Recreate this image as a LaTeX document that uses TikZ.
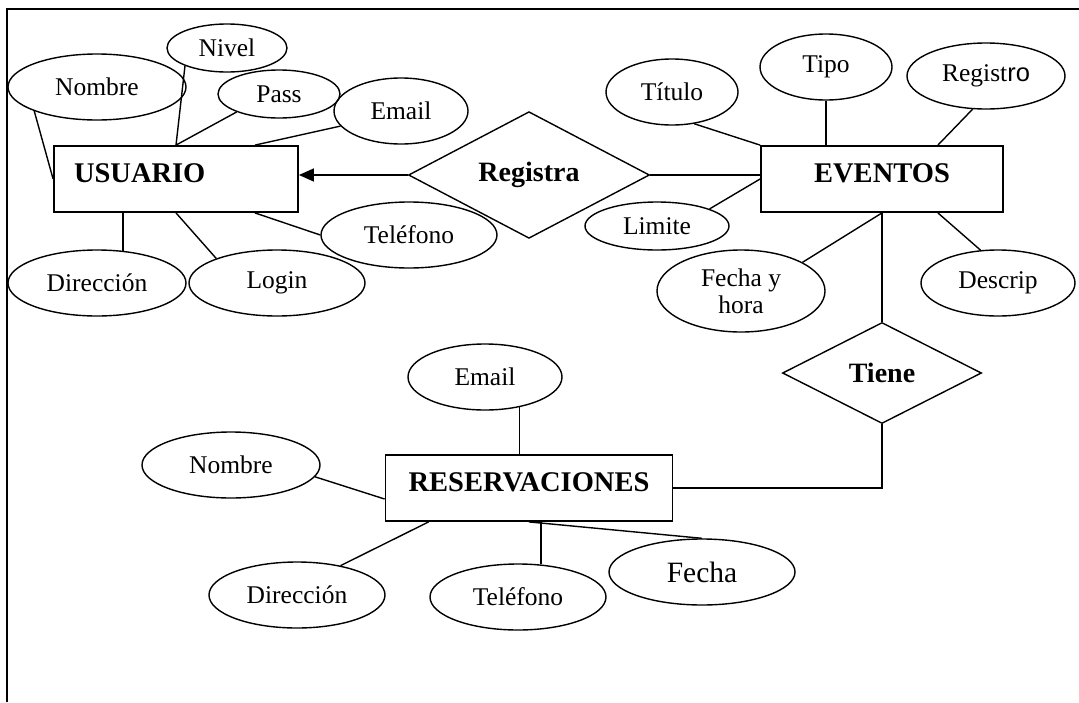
\documentclass[tikz,border=0pt]{standalone}
\usepackage{fontspec}
\setmainfont{Liberation Serif}
\newfontfamily\rofont{Liberation Sans}
\usetikzlibrary{shapes.geometric,arrows.meta}

\tikzset{
  attrib/.style={draw, ellipse, line width=1.4pt, inner sep=0pt, align=center,
    font=\fontsize{25.5}{27}\selectfont},
  entidad/.style={draw, rectangle, line width=1.8pt, minimum height=66pt, inner sep=0pt,
    text depth=12pt, font=\bfseries\fontsize{28.5}{30}\selectfont},
  relacion/.style={draw, diamond, line width=1.4pt, inner sep=0pt,
    font=\bfseries\fontsize{28}{30}\selectfont},
}

\begin{document}
\begin{tikzpicture}[x=1pt,y=-1pt,line width=1.4pt]

            \useasboundingbox (0,0) rectangle (1079,702);

            % Page frame (left and top only)
            \draw[line width=1.6pt] (7,702) -- (7,9) -- (1079,9);

            % Entities and relations
            \node[entidad, minimum width=244pt, text width=204pt, align=left, inner xsep=20pt] (usuario) at (176,179) {USUARIO};
            \node[entidad, minimum width=242pt] (eventos) at (882,179) {EVENTOS};
            \node[entidad, minimum width=287pt] (reservaciones) at (529,488) {RESERVACIONES};
            \node[relacion, minimum width=241pt, minimum height=102pt] (registra) at (529,175) {Registra};
            \node[relacion, minimum width=199pt, minimum height=101pt] (tiene) at (882,373) {Tiene};

            % Attributes: name/x/y/width/height/text
            \foreach \n/\x/\y/\w/\h/\t in {
            unombre/97/87/178/66/Nombre,
            univel/227/48/120/48/Nivel,
            upass/279/94/122/48/Pass,
            uemail/401/111/134/66/Email,
            utelefono/409/235/176/66/Teléfono,
            udireccion/97/283/178/66/Dirección,
            ulogin/277/283/176/66/Login,
            etitulo/672/92/132/66/Título,
            etipo/826/67/132/66/Tipo,
            eregistro/986/76/158/66/{Regist{\rofont ro}},
            elimite/657/226/144/48/Limite,
            efecha/741/291/168/82/{Fecha y\\hora},
            edescrip/998/283/154/66/Descrip,
            remail/485/377/154/66/Email,
            rnombre/231/465/178/66/Nombre,
            rdireccion/297/595/176/66/Dirección,
            rtelefono/518/597/176/66/Teléfono} {
            \node[attrib, minimum width=\w pt, minimum height=\h pt] (\n) at (\x,\y) {\t};
            }
            \node[attrib, minimum width=186pt, minimum height=66pt, font=\fontsize{29.5}{31}\selectfont] (rfecha) at (702,572) {Fecha};

            % USUARIO links
            \draw[-{Triangle[length=15pt,width=13pt]}] (registra.west) -- (registra.west -| usuario.east);
            \draw (unombre.201) -- (usuario.west);
            \draw (univel.203) -- (usuario.north);
            \draw (upass.203) -- (usuario.north);
            \draw (uemail.194) -- ([xshift=-44pt]usuario.north east);
            \draw (udireccion.51) -- (udireccion.51 |- usuario.south);
            \draw (ulogin.158) -- (usuario.south);
            \draw ([xshift=-44pt]usuario.south east) -- (utelefono.west);

            % EVENTOS links
            \draw (registra.east) -- (registra.east -| eventos.west);
            \draw (etitulo.-55) -- (eventos.north west);
            \draw (etipo.south) -- (etipo.south |- eventos.north);
            \draw (eregistro.248) -- ([xshift=-66pt]eventos.north east);
            \draw (elimite.18) -- (eventos.west);
            \draw (efecha.25) -- (eventos.south);
            \draw ([xshift=-66pt]eventos.south east) -- (edescrip.118);
            \draw (eventos.south) -- (tiene.north);

            % RESERVACIONES links
            \draw (tiene.south) |- (reservaciones.east);
            \draw (remail.-41) -- (remail.-41 |- reservaciones.north);
            \draw (rnombre.-8) -- ([yshift=-11pt]reservaciones.west);
            \draw (rdireccion.34) -- ([xshift=44pt]reservaciones.south west);
            \draw (rtelefono.55) -- (rtelefono.55 |- reservaciones.south);
            \draw (reservaciones.south) -- (rfecha.north);

\end{tikzpicture}
\end{document}
